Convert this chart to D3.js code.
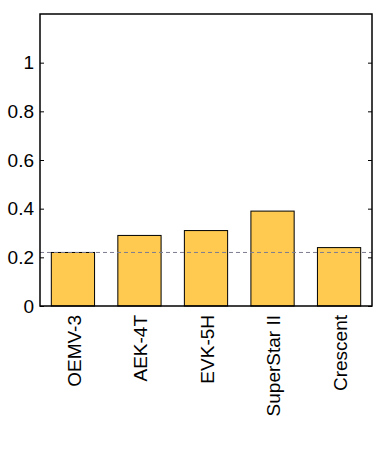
<!DOCTYPE html>
<html>
<head>
<meta charset="utf-8">
<script src="https://cdn.jsdelivr.net/npm/d3@7"></script>
<style>
  body { margin: 0; background: #fff; }
  svg text { font-family: "Liberation Sans", Arial, sans-serif; fill: #000; }
</style>
</head>
<body>
<div id="chart"></div>
<script>
// values
const categories = ["OEMV-3", "AEK-4T", "EVK-5H", "SuperStar II", "Crescent"];
const values = [0.22, 0.29, 0.31, 0.39, 0.24];
const yTicks = [0, 0.2, 0.4, 0.6, 0.8, 1];
const refLine = 0.22;

const width = 390, height = 450;
const margin = { top: 14, right: 18, bottom: 144, left: 40 };

const svg = d3.select("#chart").append("svg")
    .attr("width", width)
    .attr("height", height);

const x = d3.scaleBand()
    .domain(categories)
    .range([margin.left, width - margin.right])
    .paddingInner(0.35)
    .paddingOuter(0.17);

const y = d3.scaleLinear()
    .domain([0, 1.2])
    .range([height - margin.bottom, margin.top]);

// bars
svg.selectAll("rect.bar")
    .data(values)
    .enter()
    .append("rect")
    .attr("class", "bar")
    .attr("x", (d, i) => x(categories[i]))
    .attr("y", d => y(d))
    .attr("width", x.bandwidth())
    .attr("height", d => y(0) - y(d))
    .style("fill", "#ffca4f")
    .style("stroke", "#000")
    .style("stroke-width", 1);

// dashed reference line
svg.append("line")
    .attr("x1", margin.left)
    .attr("x2", width - margin.right)
    .attr("y1", y(refLine))
    .attr("y2", y(refLine))
    .style("stroke", "#7d7d92")
    .style("stroke-width", 1)
    .style("stroke-dasharray", "4,3");

// left axis, ticks pointing inward
const yAxis = svg.append("g")
    .attr("transform", "translate(" + margin.left + ",0)")
    .call(d3.axisLeft(y).tickValues(yTicks).tickSizeInner(-4).tickSizeOuter(0).tickPadding(6).tickFormat(d3.format("~g")));
yAxis.select(".domain").remove();
yAxis.selectAll("text").style("font-size", "19px");

// right axis ticks, inward too
const yAxisR = svg.append("g")
    .attr("transform", "translate(" + (width - margin.right) + ",0)")
    .call(d3.axisRight(y).tickValues(yTicks).tickSizeInner(-4).tickSizeOuter(0).tickFormat(""));
yAxisR.select(".domain").remove();

// x labels, rotated
const xAxis = svg.append("g")
    .attr("transform", "translate(0," + y(0) + ")")
    .call(d3.axisBottom(x).tickSize(0).tickPadding(10));
xAxis.select(".domain").remove();
xAxis.selectAll("text")
    .style("font-size", "19px")
    .style("text-anchor", "end")
    .attr("x", -9)
    .attr("y", 1)
    .attr("dy", "0.35em")
    .attr("transform", "rotate(-90)");

// frame
svg.append("rect")
    .attr("x", margin.left)
    .attr("y", margin.top)
    .attr("width", width - margin.left - margin.right)
    .attr("height", y(0) - margin.top)
    .style("fill", "none")
    .style("stroke", "#000")
    .style("stroke-width", 1.5);
</script>
</body>
</html>
